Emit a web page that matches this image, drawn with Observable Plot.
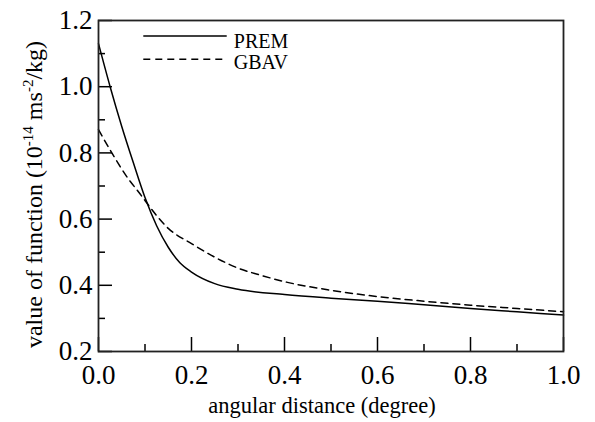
<!DOCTYPE html>
<html>
<head>
<meta charset="utf-8">
<script src="https://cdn.jsdelivr.net/npm/d3@7"></script>
<script src="https://cdn.jsdelivr.net/npm/@observablehq/plot@0.6"></script>
<style>
  html, body { margin: 0; padding: 0; background: #fff; }
</style>
</head>
<body>
<div id="chart"></div>
<script>
// Series: PREM (solid)
const premX = [0, 0.025, 0.05, 0.075, 0.1, 0.125, 0.15, 0.175, 0.2, 0.25, 0.3, 0.4, 0.5, 0.6, 0.7, 0.8, 0.9, 1.0];
const premY = [1.13, 1.0, 0.88, 0.77, 0.665, 0.58, 0.515, 0.468, 0.44, 0.405, 0.388, 0.372, 0.361, 0.352, 0.341, 0.33, 0.32, 0.31];
// Series: GBAV (dashed)
const gbavX = [0, 0.03, 0.06, 0.09, 0.1, 0.15, 0.2, 0.25, 0.3, 0.35, 0.4, 0.5, 0.6, 0.7, 0.8, 0.9, 1.0];
const gbavY = [0.87, 0.797, 0.73, 0.675, 0.656, 0.572, 0.526, 0.485, 0.452, 0.43, 0.411, 0.385, 0.366, 0.352, 0.34, 0.33, 0.32];

const seriesNames = ["PREM", "GBAV"];
const xMajor = [0, 0.2, 0.4, 0.6, 0.8, 1.0];
const xMinor = [0.1, 0.3, 0.5, 0.7, 0.9];
const yMajor = [0.2, 0.4, 0.6, 0.8, 1.0, 1.2];
const yMinor = [0.3, 0.5, 0.7, 0.9, 1.1];
const xLabel = "angular distance (degree)";
const yLabel = "value of function (10-14 ms-2/kg)";

const prem = premX.map((x, i) => ({x, y: premY[i]}));
const gbav = gbavX.map((x, i) => ({x, y: gbavY[i]}));

const W = 595, H = 422, mL = 98, mR = 32, mT = 20, mB = 71;
const fw = W - mL - mR, fh = H - mT - mB;
const serif = "'Liberation Serif', 'Times New Roman', serif";

const svg = Plot.plot({
  width: W, height: H,
  marginLeft: mL, marginRight: mR, marginTop: mT, marginBottom: mB,
  style: {fontFamily: serif, background: "white", color: "black"},
  x: {domain: [0, 1]},
  y: {domain: [0.2, 1.2]},
  marks: [
    Plot.line(prem, {x: "x", y: "y", curve: "monotone-x", stroke: "black", strokeWidth: 1.5}),
    Plot.line(gbav, {x: "x", y: "y", curve: "monotone-x", stroke: "black", strokeWidth: 1.5, strokeDasharray: "7,5"}),
    // inward ticks
    Plot.ruleX(xMajor, {insetTop: fh - 14, stroke: "black", strokeWidth: 1.5}),
    Plot.ruleX(xMinor, {insetTop: fh - 7, stroke: "black", strokeWidth: 1.5}),
    Plot.ruleY(yMajor, {insetRight: fw - 14, stroke: "black", strokeWidth: 1.5}),
    Plot.ruleY(yMinor, {insetRight: fw - 7, stroke: "black", strokeWidth: 1.5}),
    Plot.axisX(xMajor, {tickSize: 0, tickPadding: 13, fontSize: 27, tickFormat: d3.format(".1f"), label: null}),
    Plot.axisY(yMajor, {tickSize: 0, tickPadding: 6, fontSize: 27, tickFormat: d3.format(".1f"), label: null}),
    Plot.frame({stroke: "#222", strokeWidth: 1.8}),
    // legend
    Plot.ruleY([1.153], {x1: 0.0974, x2: 0.2768, stroke: "black", strokeWidth: 1.5}),
    Plot.ruleY([1.083], {x1: 0.0974, x2: 0.2768, stroke: "black", strokeWidth: 1.5, strokeDasharray: "7,5"}),
    Plot.text([seriesNames[0]], {x: 0.291, y: 1.135, text: d => d, textAnchor: "start", fontSize: 20}),
    Plot.text([seriesNames[1]], {x: 0.291, y: 1.0743, text: d => d, textAnchor: "start", fontSize: 20}),
    // axis titles
    Plot.text([xLabel], {frameAnchor: "bottom", text: d => d, textAnchor: "middle", dx: -9, dy: 61, fontSize: 22.5}),
    Plot.text([yLabel], {frameAnchor: "left", text: d => d, textAnchor: "middle", rotate: -90, dx: -64, dy: 8.5, fontSize: 24})
  ]
});

document.getElementById("chart").appendChild(svg);

// superscripts in y-axis title
d3.select(svg).selectAll("text").each(function() {
  if (this.textContent === yLabel) {
    const t = d3.select(this);
    t.text(null);
    t.append("tspan").text("value of function (10");
    t.append("tspan").attr("dy", -9).attr("font-size", 15).text("-14");
    t.append("tspan").attr("dy", 9).text(" ms");
    t.append("tspan").attr("dy", -9).attr("font-size", 15).text("-2");
    t.append("tspan").attr("dy", 9).text("/kg)");
  }
});
</script>
</body>
</html>
